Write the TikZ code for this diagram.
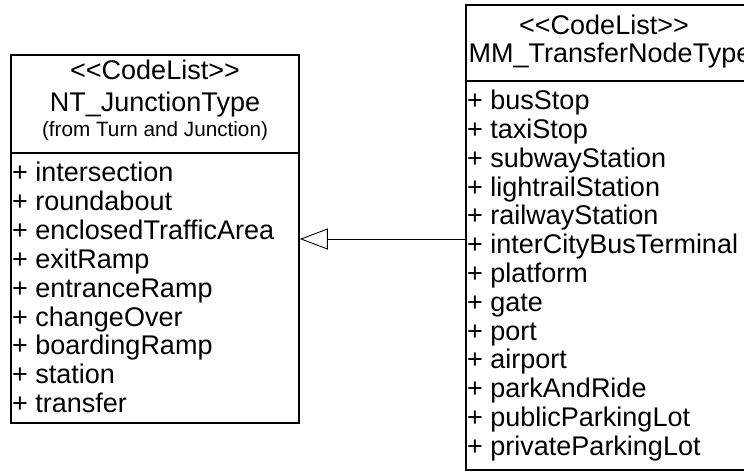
\documentclass[tikz,border=0pt]{standalone}
\usepackage{fontspec}
\setmainfont{Liberation Sans}[Ligatures=TeXOff]
\usetikzlibrary{arrows.meta}

\tikzset{
  classbox/.style={draw, rectangle, line width=1.6pt, inner sep=0pt},
  item/.style={anchor=base west, inner sep=0pt, font=\fontsize{27}{29}\selectfont},
  head/.style={anchor=base, inner sep=0pt, font=\fontsize{27}{29}\selectfont},
  origin/.style={anchor=base, inner sep=0pt, font=\fontsize{20.7}{24}\selectfont},
}

\begin{document}
\begin{tikzpicture}[x=1pt, y=-1pt]
        \useasboundingbox (0, 0) rectangle (744, 473);
        \clip (0, 0) rectangle (744, 473);

        % the two code lists
        \node [classbox, minimum width=288pt, minimum height=368pt] (J) at (155, 239) {};
        \node [classbox, minimum width=300pt, minimum height=465pt] (T) at (616, 237.5) {};
        \draw [line width=1.6pt] (J.west |- 0, 153) -- (J.east |- 0, 153);
        \draw [line width=1.6pt] (T.west |- 0, 81) -- (T.east |- 0, 81);

        \node [head] (Js) at (155, 80) {<<CodeList>>};
        \node [head] (Jn) at (155, 112) {NT\_JunctionType};
        \node [origin] (Jf) at (155, 137) {(from Turn and Junction)};

        \node [head] (Ts) at (604, 35) {<<CodeList>>};
        \node [head] (Tn) at (610, 63) {MM\_TransferNodeType};

        \node [item] (j1) at (12, 182) {+ intersection};
        \node [item] (j2) at (12, 210.8) {+ roundabout};
        \node [item] (j3) at (12, 239.6) {+ enclosedTrafficArea};
        \node [item] (j4) at (12, 268.4) {+ exitRamp};
        \node [item] (j5) at (12, 297.2) {+ entranceRamp};
        \node [item] (j6) at (12, 326) {+ changeOver};
        \node [item] (j7) at (12, 354.8) {+ boardingRamp};
        \node [item] (j8) at (12, 383.6) {+ station};
        \node [item] (j9) at (12, 412.4) {+ transfer};

        \node [item] (t1) at (467, 110) {+ busStop};
        \node [item] (t2) at (467, 138.75) {+ taxiStop};
        \node [item] (t3) at (467, 167.5) {+ subwayStation};
        \node [item] (t4) at (467, 196.25) {+ lightrailStation};
        \node [item] (t5) at (467, 225) {+ railwayStation};
        \node [item] (t6) at (467, 253.75) {+ interCityBusTerminal};
        \node [item] (t7) at (467, 282.5) {+ platform};
        \node [item] (t8) at (467, 311.25) {+ gate};
        \node [item] (t9) at (467, 340) {+ port};
        \node [item] (t10) at (467, 368.75) {+ airport};
        \node [item] (t11) at (467, 397.5) {+ parkAndRide};
        \node [item] (t12) at (467, 426.25) {+ publicParkingLot};
        \node [item] (t13) at (467, 455) {+ privateParkingLot};

        % generalization
        \draw [line width=0.9pt, -{Triangle[open, length=28pt, width=21pt, line width=0.9pt]}] (T.west |- J.east) -- (J.east);
\end{tikzpicture}
\end{document}
